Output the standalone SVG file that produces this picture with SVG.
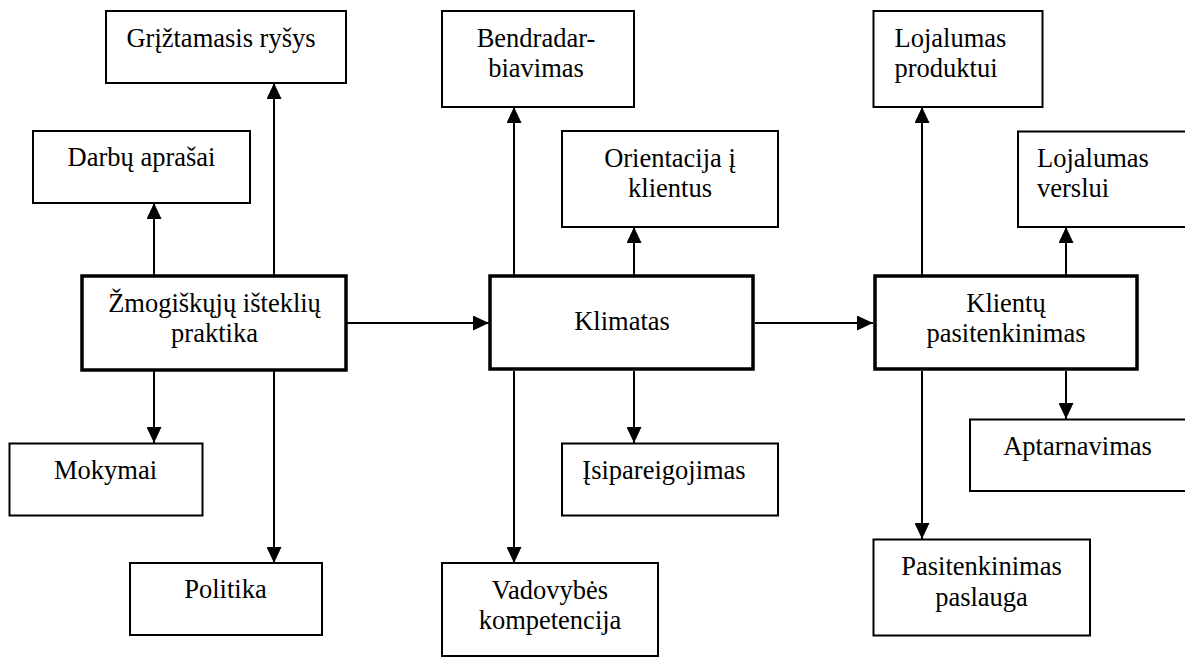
<svg xmlns="http://www.w3.org/2000/svg" width="1185" height="659" viewBox="0 0 1185 659">
  <style>
    .box { fill: #ffffff; stroke: #000000; stroke-width: 2; }
    .core { fill: #ffffff; stroke: #000000; stroke-width: 3.5; }
    .lbl { font-family: 'Liberation Serif', Tinos, 'Times New Roman', 'DejaVu Serif', serif; font-size: 26.5px; fill: #000000; text-anchor: middle; }
    .left { text-anchor: start; }
    .conn line { stroke: #000000; stroke-width: 2; marker-end: url(#arrow); }
  </style>
  <defs>
    <marker id="arrow" markerUnits="userSpaceOnUse" markerWidth="16" markerHeight="15" refX="16" refY="7.5" orient="auto" viewBox="0 0 16 15">
      <path d="M0,0 L16,7.5 L0,15 Z" fill="#000000"/>
    </marker>
  </defs>

  <rect width="1185" height="659" fill="#ffffff"/>

  <!-- connectors -->
  <g id="connectors" class="conn">
    <line x1="274" y1="275" x2="274" y2="83"/>
    <line x1="154" y1="275" x2="154" y2="203"/>
    <line x1="154" y1="371" x2="154" y2="443"/>
    <line x1="274" y1="371" x2="274" y2="563"/>
    <line x1="347" y1="323" x2="489" y2="323"/>
    <line x1="514" y1="275" x2="514" y2="107"/>
    <line x1="634" y1="275" x2="634" y2="227"/>
    <line x1="514" y1="371" x2="514" y2="563"/>
    <line x1="634" y1="371" x2="634" y2="443"/>
    <line x1="755" y1="323" x2="873" y2="323"/>
    <line x1="922" y1="275" x2="922" y2="107"/>
    <line x1="1066" y1="275" x2="1066" y2="227"/>
    <line x1="922" y1="371" x2="922" y2="539"/>
    <line x1="1066" y1="371" x2="1066" y2="419"/>
  </g>

  <!-- left cluster -->
  <g id="zmogiskuju">
    <rect class="core" x="82" y="276" width="264" height="94"/>
    <text class="lbl" x="214.5" y="311.5">Žmogiškųjų išteklių</text>
    <text class="lbl" x="214.5" y="341.5">praktika</text>
  </g>
  <g id="griztamasis">
    <rect class="box" x="106" y="11" width="240" height="72"/>
    <text class="lbl" x="221" y="46.5">Grįžtamasis ryšys</text>
  </g>
  <g id="darbu">
    <rect class="box" x="33" y="131" width="217" height="72"/>
    <text class="lbl" x="141.5" y="166">Darbų aprašai</text>
  </g>
  <g id="mokymai">
    <rect class="box" x="9.5" y="443.5" width="193" height="72"/>
    <text class="lbl" x="105.5" y="478.5">Mokymai</text>
  </g>
  <g id="politika">
    <rect class="box" x="130" y="563" width="192" height="72"/>
    <text class="lbl" x="225.5" y="598">Politika</text>
  </g>

  <!-- middle cluster -->
  <g id="klimatas">
    <rect class="core" x="490" y="276" width="263" height="93"/>
    <text class="lbl" x="622" y="330">Klimatas</text>
  </g>
  <g id="bendradarbiavimas">
    <rect class="box" x="442" y="11" width="192" height="96"/>
    <text class="lbl" x="536" y="46.5">Bendradar-</text>
    <text class="lbl" x="536" y="76.5">biavimas</text>
  </g>
  <g id="orientacija">
    <rect class="box" x="562" y="131" width="216" height="96"/>
    <text class="lbl" x="670" y="167">Orientacija į</text>
    <text class="lbl" x="670" y="197">klientus</text>
  </g>
  <g id="isipareigojimas">
    <rect class="box" x="562" y="443.5" width="216" height="72"/>
    <text class="lbl" x="664" y="478.5">Įsipareigojimas</text>
  </g>
  <g id="vadovybes">
    <rect class="box" x="442" y="563" width="216" height="93"/>
    <text class="lbl" x="550" y="598.5">Vadovybės</text>
    <text class="lbl" x="550" y="628.5">kompetencija</text>
  </g>

  <!-- right cluster -->
  <g id="klientu">
    <rect class="core" x="875" y="276" width="262" height="93"/>
    <text class="lbl" x="1006" y="311.5">Klientų</text>
    <text class="lbl" x="1006" y="341.5">pasitenkinimas</text>
  </g>
  <g id="lojalumas-produktui">
    <rect class="box" x="873.5" y="11" width="169" height="96"/>
    <text class="lbl left" x="894.5" y="47">Lojalumas</text>
    <text class="lbl left" x="894.5" y="77">produktui</text>
  </g>
  <g id="lojalumas-verslui">
    <rect class="box" x="1018" y="131.5" width="180" height="95.5"/>
    <text class="lbl left" x="1037" y="167">Lojalumas</text>
    <text class="lbl left" x="1037" y="196.5">verslui</text>
  </g>
  <g id="aptarnavimas">
    <rect class="box" x="970" y="419.5" width="230" height="71.5"/>
    <text class="lbl" x="1077.5" y="455">Aptarnavimas</text>
  </g>
  <g id="pasitenkinimas-paslauga">
    <rect class="box" x="873.5" y="539.5" width="216.5" height="96"/>
    <text class="lbl" x="981.5" y="575">Pasitenkinimas</text>
    <text class="lbl" x="981.5" y="605.5">paslauga</text>
  </g>
</svg>
